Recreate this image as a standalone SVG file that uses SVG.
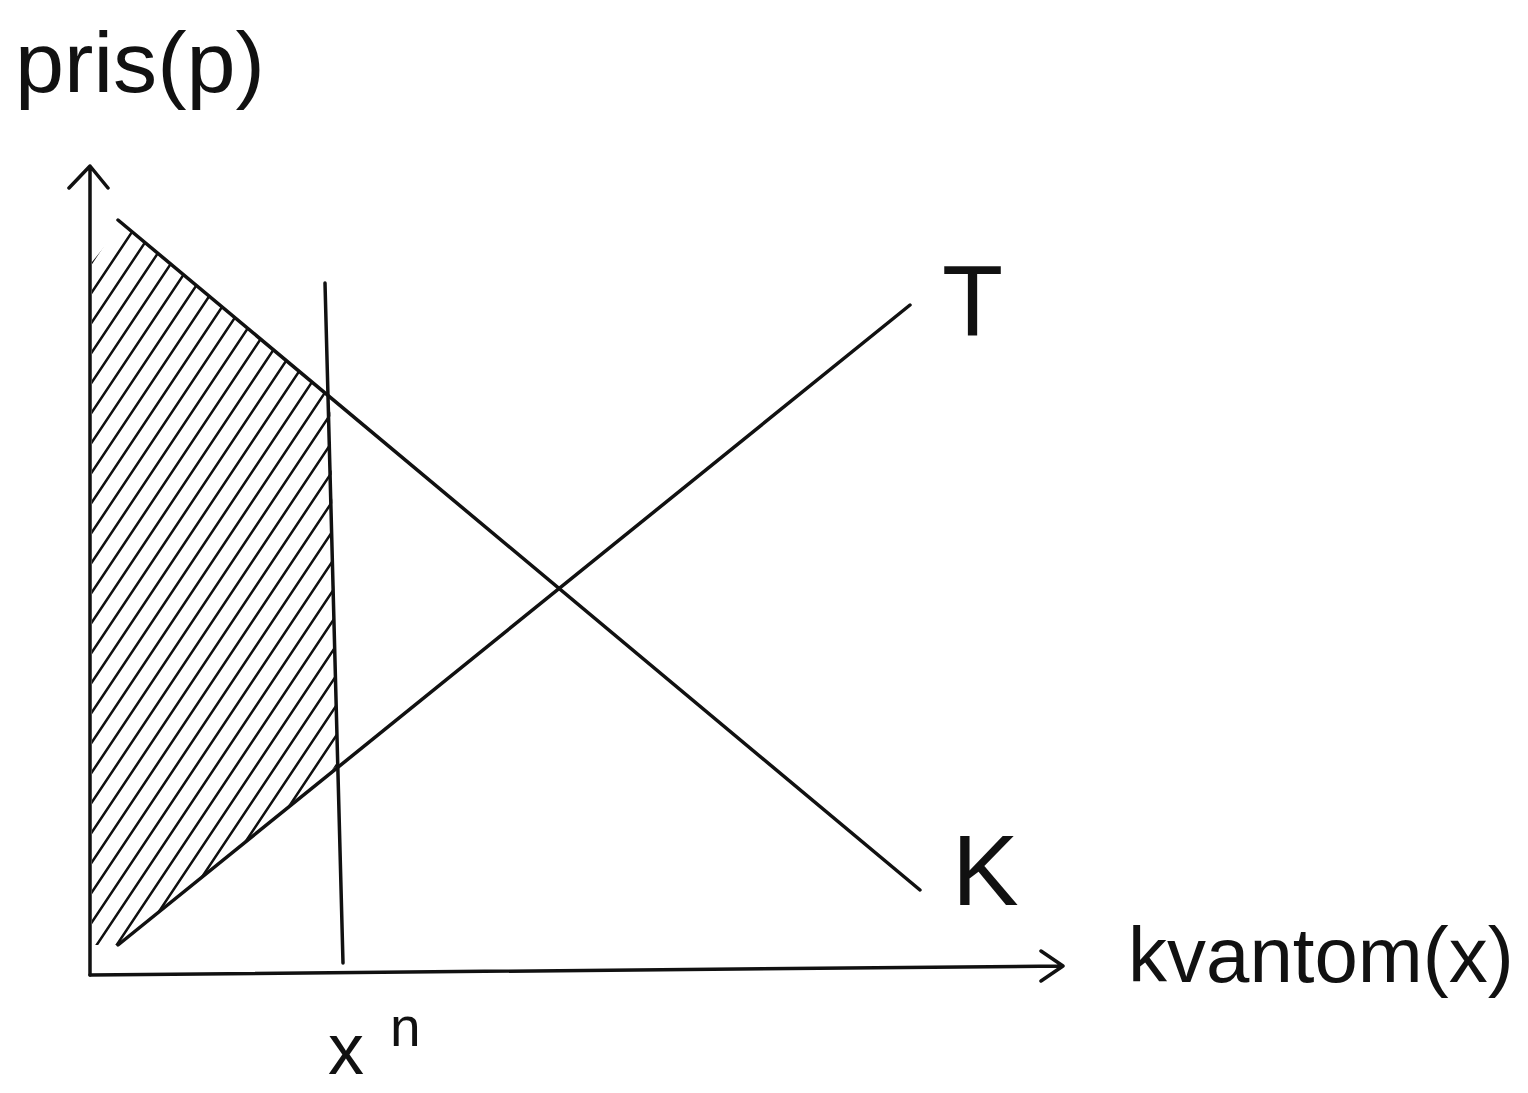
<svg xmlns="http://www.w3.org/2000/svg" width="1528" height="1093" viewBox="0 0 1528 1093">
<style>
.ln{fill:none;stroke:#111;stroke-width:3.5;stroke-linecap:round;stroke-linejoin:round}
.hatch{fill:none;stroke:#111;stroke-width:2.5;stroke-linecap:round}
.lbl{font-family:"Liberation Sans",Arial,sans-serif;fill:#111}
</style>
<defs>
<clipPath id="hatchClip">
<polygon points="92,262 122,225 330,397 338,765 118,945 92,945"/>
</clipPath>
</defs>
<rect width="1528" height="1093" fill="#fff"/>
<g id="hatching" clip-path="url(#hatchClip)">
<path class="hatch" d="M60,250L360,-200M60,280L360,-170M60,310L360,-140M60,340L360,-110M60,370L360,-80M60,400L360,-50M60,430L360,-20M60,460L360,10M60,490L360,40M60,520L360,70M60,550L360,100M60,580L360,130M60,610L360,160M60,640L360,190M60,670L360,220M60,700L360,250M60,730L360,280M60,760L360,310M60,790L360,340M60,820L360,370M60,850L360,400M60,880L360,430M60,910L360,460M60,940L360,490M60,970L360,520M60,1000L360,550M60,1030L360,580M60,1060L360,610M60,1090L360,640M60,1120L360,670M60,1150L360,700M60,1180L360,730"/>
</g>
<g id="connectors">
<path id="y-axis" class="ln" d="M90,975L90,166M69,188L90,166L108,188"/>
<path id="x-axis" class="ln" d="M90,975L1063,966M1041,951L1063,966L1041,981"/>
<path id="demand-K" class="ln" d="M118,220L920,890"/>
<path id="supply-T" class="ln" d="M118,945L910,305"/>
<path id="xn-line" class="ln" d="M325,283L343,963"/>
</g>
<g id="label-pris"><text class="lbl" x="15" y="92" font-size="85" textLength="250" lengthAdjust="spacingAndGlyphs">pris(p)</text></g>
<g id="label-T"><text class="lbl" x="942" y="335" font-size="100">T</text></g>
<g id="label-K"><text class="lbl" x="952" y="905" font-size="100">K</text></g>
<g id="label-kvantom"><text class="lbl" x="1128" y="982" font-size="78">kvantom(x)</text></g>
<g id="label-xn"><text class="lbl" x="328" y="1074" font-size="72">x</text><text class="lbl" x="390" y="1046" font-size="55">n</text></g>
</svg>
